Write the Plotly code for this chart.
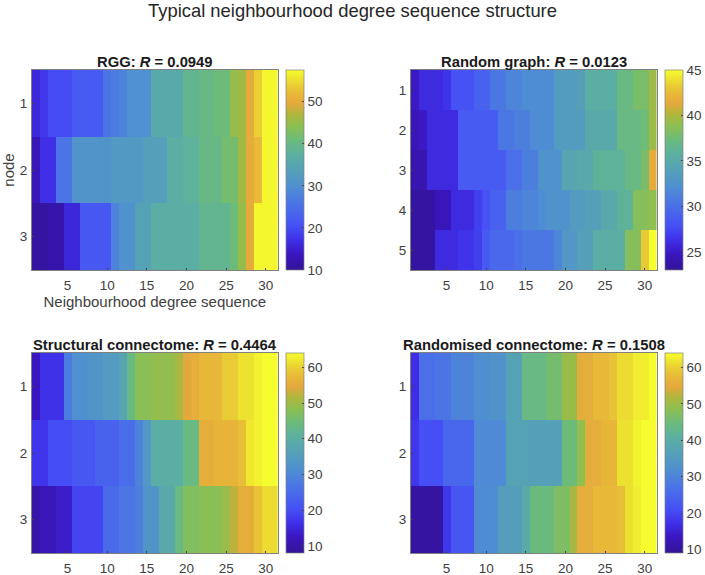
import plotly.graph_objects as go

W, H = 705, 575

# ---- data ----
main_title = "Typical neighbourhood degree sequence structure"
sequence = list(range(1, 32))

rgg_1 = [16,18,20,20,20,22,22,22,22,26,27,28,30,30,30,36,36,36,36,39,39,40,40,41,41,45,46,50,54,57,57]
rgg_2 = [13,17,17,26,26,31,31,31,31,31,32,32,32,32,33.5,33.5,33.5,37,37,38,38,40,40,40,42,42,46,50,52,57,57]
rgg_3 = [11,11,12,12,16,16,21.5,21.5,21.5,21.5,28,30.5,30.5,34,34,37,37,37,37,37,37,39,39,39,39,41,45,50,57,57,57]

rand_1 = [25,26,26,26,26.5,28,28,28,29,29,30.5,30.5,31.5,31.5,32,32,32,32,33.5,33.5,33.5,34,35.5,35.5,35.5,35.5,37,37,38,38,39.5]
rand_2 = [24.5,25,26,26,26,26,28.5,28.5,28.5,28.5,28.5,30.5,30.5,31,31,32,32,32,33.5,33.5,33.5,33.5,35,35,35,35,37,37,37,37.5,39.5]
rand_3 = [24,24,26,26,26,26,28.5,28.5,28.5,28.5,28.5,28.5,30,30,31,31,32.5,32.5,32.5,34.5,34.5,35,35,36,36,36,36,37,37,38,41.5]
rand_4 = [23.5,23.5,23.5,24.5,24.5,26,26,26,27,28,29,29,31,31,31.5,31.5,32,32.5,32.5,32.5,33.5,33.5,34,34,35,35,36,36,38.5,38.5,39]
rand_5 = [23.5,23.5,23.5,26,26,26,26.5,26.5,27,28.5,29.5,29.5,29.5,30,30.5,30.5,30.5,30.5,31.5,33,33,34,34,35.5,35.5,35.5,35.5,38.5,38.5,43.2,45]

conn_1 = [12.5,16.5,16.5,16.5,28,31.5,31.5,33,33,34.5,34.5,37,44,48,48,49,49,49,51,54.5,55.5,57,57,57,59.5,59.5,61.5,61.5,63,64,64]
conn_2 = [17,17,20,20,20,21.5,21.5,21.5,23.5,23.5,23.5,25.5,25.5,29.5,33.5,40,40,40,40,44,44,55.5,55.5,56.5,56.5,56.5,58,62,63,64,64]
conn_3 = [10,11.5,11.5,13.5,13.5,19,19,19,19,25,25,27,27,28.5,33,33,38.5,38.5,44,47,47,48,48,48,49.5,52.5,55.5,55.5,58.5,61,61]

shuf_1 = [17,26.5,26.5,27.5,27.5,30,30,30,32,32,33,33,37,37,44,44,44,46,46,50,50,55.5,55.5,57.5,57.5,58.5,61,61,62.5,62.5,64]
shuf_2 = [18,21,21,21,25,25,25,25,31,31,31,31,37,37,37,36.5,36.5,36.5,36.5,45,45,49,55.5,55.5,57,57,61.5,61.5,63,64,64]
shuf_3 = [10,10,10,10,18,22,22,22,31.5,31.5,31.5,36,36,36,39.5,44.5,44.5,44.5,47,47,51,55.5,55.5,57.5,57.5,57.5,58,61.5,62.5,64,64]

rgg_z = [rgg_1, rgg_2, rgg_3]
rand_z = [rand_1, rand_2, rand_3, rand_4, rand_5]
conn_z = [conn_1, conn_2, conn_3]
shuf_z = [shuf_1, shuf_2, shuf_3]

panel_titles = ["<b>RGG: <i>R</i> = 0.0949</b>", "<b>Random graph: <i>R</i> = 0.0123</b>",
                "<b>Structural connectome: <i>R</i> = 0.4464</b>", "<b>Randomised connectome: <i>R</i> = 0.1508</b>"]
color_ranges = [(10, 57.5), (23, 45), (8, 64), (9, 64)]
bar_ticks = [[10, 20, 30, 40, 50], [25, 30, 35, 40, 45], [10, 20, 30, 40, 50, 60], [10, 20, 30, 40, 50, 60]]
x_ticks = [5, 10, 15, 20, 25, 30]

colorscale = [
    [0.00, "#321496"], [0.08, "#3a16c0"], [0.15, "#3f30e8"], [0.22, "#4650f5"],
    [0.32, "#4a70e8"], [0.42, "#4f90d0"], [0.50, "#55a0b8"], [0.58, "#5cb0a0"],
    [0.65, "#6bbb7c"], [0.72, "#8cbf52"], [0.78, "#b0b63c"], [0.83, "#e4a83c"],
    [0.88, "#e8b838"], [0.92, "#e9cb35"], [0.96, "#eee52f"], [1.00, "#f6fd2e"],
]

# ---- layout geometry in page pixels ----
lefts = [32, 412, 32, 412]
tops = [70, 70, 353, 353]
PW, PH = 246.5, 200
INK = "#404040"
FONT = "Liberation Sans"


def px(v):
    return v / W


def py(v):
    return 1 - v / H


fig = go.Figure()
zs = [rgg_z, rand_z, conn_z, shuf_z]
for i, z in enumerate(zs):
    n = i + 1
    x0, y0 = lefts[i], tops[i]
    fig.add_trace(go.Heatmap(
        z=z, x=sequence, y=list(range(1, len(z) + 1)),
        xaxis="x%d" % n, yaxis="y%d" % n,
        colorscale=colorscale, zmin=color_ranges[i][0], zmax=color_ranges[i][1], zsmooth=False,
        colorbar=dict(
            x=px(x0 + PW + 8.5), xanchor="left", xpad=0, xref="paper",
            y=py(y0), yanchor="top", ypad=0, yref="paper",
            lenmode="pixels", len=PH, thicknessmode="pixels", thickness=17.5,
            tickvals=bar_ticks[i], ticks="inside", ticklen=2, tickcolor=INK,
            outlinecolor="#808080", outlinewidth=0.7,
            tickfont=dict(family=FONT, size=13.5, color=INK))))
    fig.update_layout(**{
        "xaxis%d" % n: dict(
            domain=[px(x0), px(x0 + PW)], anchor="y%d" % n, range=[0.5, 31.5],
            tickvals=x_ticks, ticks="inside", ticklen=2, tickcolor=INK, color=INK,
            ticklabelstandoff=3,
            showline=True, linecolor="#808080", linewidth=0.7, mirror=True, showgrid=False, zeroline=False,
            tickfont=dict(family=FONT, size=13.5, color=INK)),
        "yaxis%d" % n: dict(
            domain=[py(y0 + PH), py(y0)], anchor="x%d" % n,
            range=[len(z) + 0.5, 0.5], tickvals=list(range(1, len(z) + 1)),
            ticks="inside", ticklen=2, tickcolor=INK, color=INK,
            ticklabelstandoff=1,
            showline=True, linecolor="#808080", linewidth=0.7, mirror=True, showgrid=False, zeroline=False,
            tickfont=dict(family=FONT, size=13.5, color=INK)),
    })
    fig.add_annotation(text=panel_titles[i], xref="paper", yref="paper",
                       x=px(x0 + PW / 2), y=py(y0), xanchor="center", yanchor="bottom",
                       yshift=-2, showarrow=False,
                       font=dict(family=FONT, size=14.8, color="#1a1a1a"))

fig.update_layout(
    xaxis1=dict(title=dict(text="Neighbourhood degree sequence", standoff=3,
                           font=dict(family=FONT, size=15, color=INK))),
    yaxis1=dict(title=dict(text="node", standoff=9,
                           font=dict(family=FONT, size=15, color=INK))),
    title=dict(text=main_title, x=0.5, xanchor="center",
               y=py(11), yanchor="middle",
               font=dict(family=FONT, size=18.4, color="#262626")),
    width=W, height=H, margin=dict(l=0, r=0, t=0, b=0),
    paper_bgcolor="white", plot_bgcolor="white", showlegend=False,
)
fig.write_html("out.html", config={"displayModeBar": False},
               post_script="document.body.style.margin='0';document.body.style.overflow='hidden';")
